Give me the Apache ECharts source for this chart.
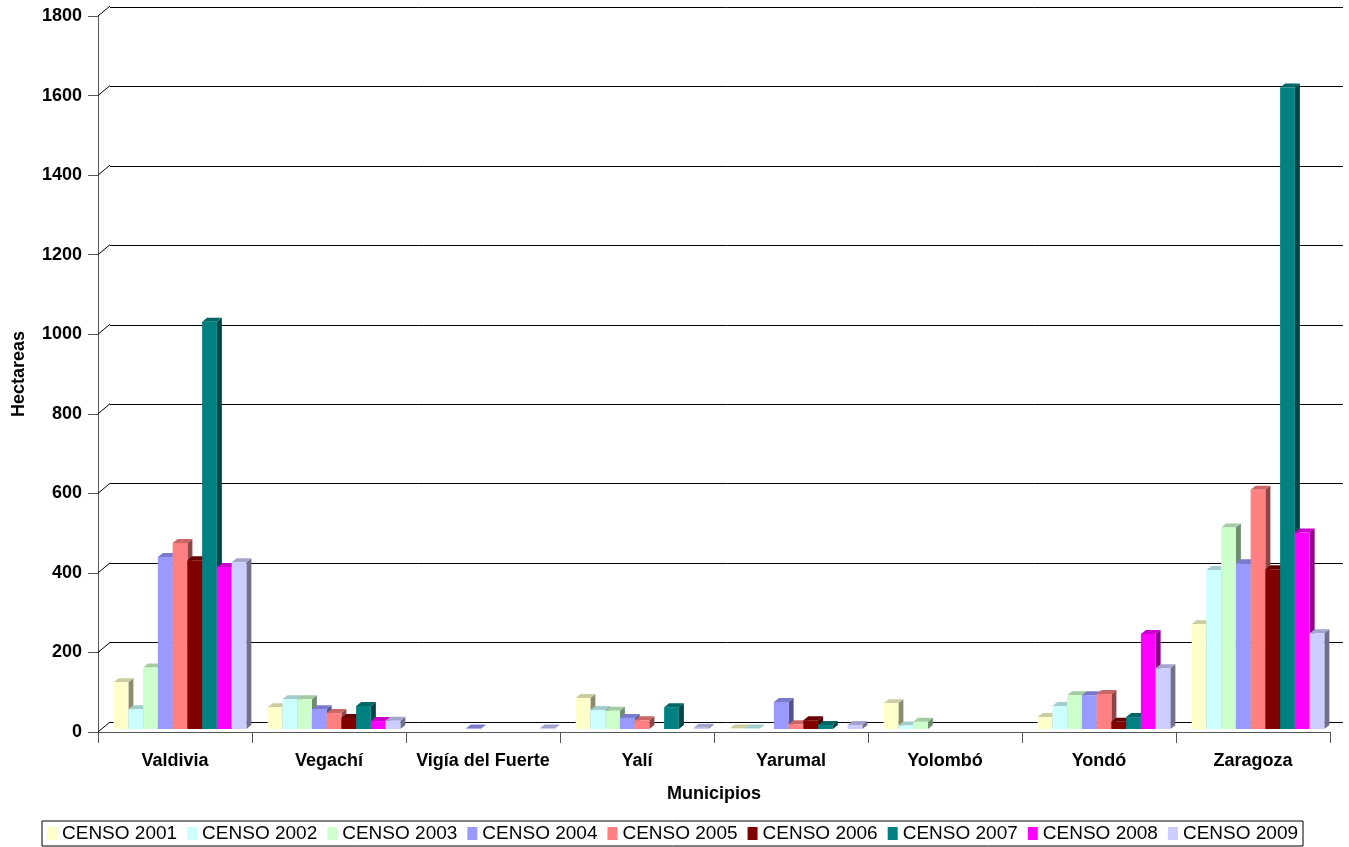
<!DOCTYPE html>
<html>
<head>
<meta charset="utf-8">
<script src="https://cdn.jsdelivr.net/npm/echarts@6/dist/echarts.min.js"></script>
<style>
html,body{margin:0;padding:0;background:#fff;}
#chart{width:1349px;height:847px;}
</style>
</head>
<body>
<div id="chart"></div>
<script>
// ---- Data ----
const categories = ['Valdivia', 'Vegachí', 'Vigía del Fuerte', 'Yalí', 'Yarumal', 'Yolombó', 'Yondó', 'Zaragoza'];
const yTicks = [0, 200, 400, 600, 800, 1000, 1200, 1400, 1600, 1800];
const seriesNames = ['CENSO 2001', 'CENSO 2002', 'CENSO 2003', 'CENSO 2004', 'CENSO 2005', 'CENSO 2006', 'CENSO 2007', 'CENSO 2008', 'CENSO 2009'];
const censo2001 = [118, 55, null, 78, 1, 65, 30, 264];
const censo2002 = [50, 75, null, 48, 1, 9, 58, 400];
const censo2003 = [155, 75, null, 46, null, 18, 85, 507];
const censo2004 = [433, 50, 1, 28, 68, null, 85, 417];
const censo2005 = [468, 40, null, 22, 12, null, 88, 602];
const censo2006 = [425, 28, null, null, 22, null, 18, 402];
const censo2007 = [1025, 58, null, 55, 10, null, 30, 1615];
const censo2008 = [408, 20, null, null, null, null, 239, 495];
const censo2009 = [420, 21, 1, 3, 10, null, 153, 241];
const allSeries = [censo2001, censo2002, censo2003, censo2004, censo2005, censo2006, censo2007, censo2008, censo2009];
const colors = ['#FFFFCC', '#CCFFFF', '#CCFFCC', '#9999FF', '#FF8080', '#800000', '#008080', '#FF00FF', '#CCCCFF'];

// ---- Style helpers ----
const FONT = 'Liberation Sans, Arial, sans-serif';
const DEPTH_X = 5, DEPTH_Y = 4, GROUP = 0.862;
function shade(hex, f) {
  const n = parseInt(hex.slice(1), 16);
  const r = Math.round(((n >> 16) & 255) * f), g = Math.round(((n >> 8) & 255) * f), b = Math.round((n & 255) * f);
  return 'rgb(' + r + ',' + g + ',' + b + ')';
}
function makeRender(si, color) {
  const topC = shade(color, 0.8), sideC = shade(color, 0.55);
  return function (params, api) {
    const v = api.value(1);
    if (v == null || isNaN(v)) return;
    const ci = api.value(0);
    const base = api.coord([ci, 0]);
    const tp = api.coord([ci, v]);
    const band = api.size([1, 0])[0];
    const gw = band * GROUP;
    const w = gw / 9;
    const x = base[0] - gw / 2 + si * w;
    const y0 = base[1], y1 = tp[1];
    const d = DEPTH_X, dy = DEPTH_Y;
    return {
      type: 'group',
      children: [
        { type: 'polygon', shape: { points: [[x + w, y1], [x + w + d, y1 - dy], [x + w + d, y0 - dy], [x + w, y0]] }, style: { fill: sideC } },
        { type: 'polygon', shape: { points: [[x, y1], [x + d, y1 - dy], [x + w + d, y1 - dy], [x + w, y1]] }, style: { fill: topC } },
        { type: 'rect', shape: { x: x, y: y1, width: w, height: Math.max(y0 - y1, 0.5) }, style: { fill: color } }
      ]
    };
  };
}

const barSeries = allSeries.map((arr, si) => ({
  name: seriesNames[si],
  type: 'custom',
  xAxisIndex: 2,
  yAxisIndex: 2,
  itemStyle: { color: colors[si] },
  renderItem: makeRender(si, colors[si]),
  encode: { x: 0, y: 1 },
  data: arr.map((v, i) => [i, v == null ? NaN : v]),
  z: 3
}));

// left wall diagonals from front ticks to back wall
const wallSeries = {
  type: 'custom',
  xAxisIndex: 0,
  yAxisIndex: 0,
  silent: true,
  renderItem: function (params, api) {
    const y = api.coord([0, api.value(1)])[1];
    const x = params.coordSys.x;
    return { type: 'line', shape: { x1: x, y1: y, x2: x + 12, y2: y - 10 }, style: { stroke: '#000', lineWidth: 1 } };
  },
  data: yTicks.map(t => [0, t]),
  z: 1
};

const gridBase = { containLabel: false, outerBoundsMode: 'none' };
const option = {
  animation: false,
  backgroundColor: '#fff',
  grid: [
    Object.assign({ left: 98, right: 19, top: 16, bottom: 115 }, gridBase),
    Object.assign({ left: 110, right: 6, top: 7, bottom: 125 }, gridBase),
    Object.assign({ left: 103, right: 14, top: 14, bottom: 118 }, gridBase)
  ],
  xAxis: [
    {
      gridIndex: 0, type: 'category', data: categories, boundaryGap: true,
      axisLine: { show: true, lineStyle: { color: '#555', width: 1 } },
      axisTick: { show: true, interval: 0, length: 11, lineStyle: { color: '#555' } },
      axisLabel: { interval: 0, margin: 20, fontFamily: FONT, fontWeight: 'bold', fontSize: 18, color: '#000' },
      name: 'Municipios', nameLocation: 'middle', nameGap: 53,
      nameTextStyle: { fontFamily: FONT, fontWeight: 'bold', fontSize: 18, color: '#000' }
    },
    { gridIndex: 1, type: 'category', data: categories, show: false },
    { gridIndex: 2, type: 'category', data: categories, show: false }
  ],
  yAxis: [
    {
      gridIndex: 0, type: 'value', min: 0, max: 1800, interval: 200,
      axisLine: { show: true, lineStyle: { color: '#555', width: 1 } },
      axisTick: { show: true, length: 10, lineStyle: { color: '#555' } },
      axisLabel: { margin: 16, fontFamily: FONT, fontWeight: 'bold', fontSize: 18, color: '#000', formatter: v => String(v) },
      splitLine: { show: false },
      name: 'Hectareas', nameLocation: 'middle', nameGap: 70, nameRotate: 90,
      nameTextStyle: { fontFamily: FONT, fontWeight: 'bold', fontSize: 18, color: '#000' }
    },
    {
      gridIndex: 1, type: 'value', min: 0, max: 1800, interval: 200,
      axisLine: { show: false }, axisTick: { show: false }, axisLabel: { show: false },
      splitLine: { show: true, lineStyle: { color: '#000', width: 1 } }
    },
    {
      gridIndex: 2, type: 'value', min: 0, max: 1800, interval: 200, show: false,
      splitLine: { show: false }
    }
  ],
  legend: {
    data: seriesNames,
    left: 42, top: 821,
    orient: 'horizontal',
    icon: 'rect',
    itemWidth: 10, itemHeight: 13,
    itemGap: 10,
    padding: [3, 5, 3, 5],
    borderColor: '#000', borderWidth: 1,
    textStyle: { fontFamily: FONT, fontSize: 19, color: '#000' }
  },
  series: [wallSeries].concat(barSeries)
};

const chart = echarts.init(document.getElementById('chart'), null, { renderer: 'canvas' });
chart.setOption(option);
</script>
</body>
</html>
